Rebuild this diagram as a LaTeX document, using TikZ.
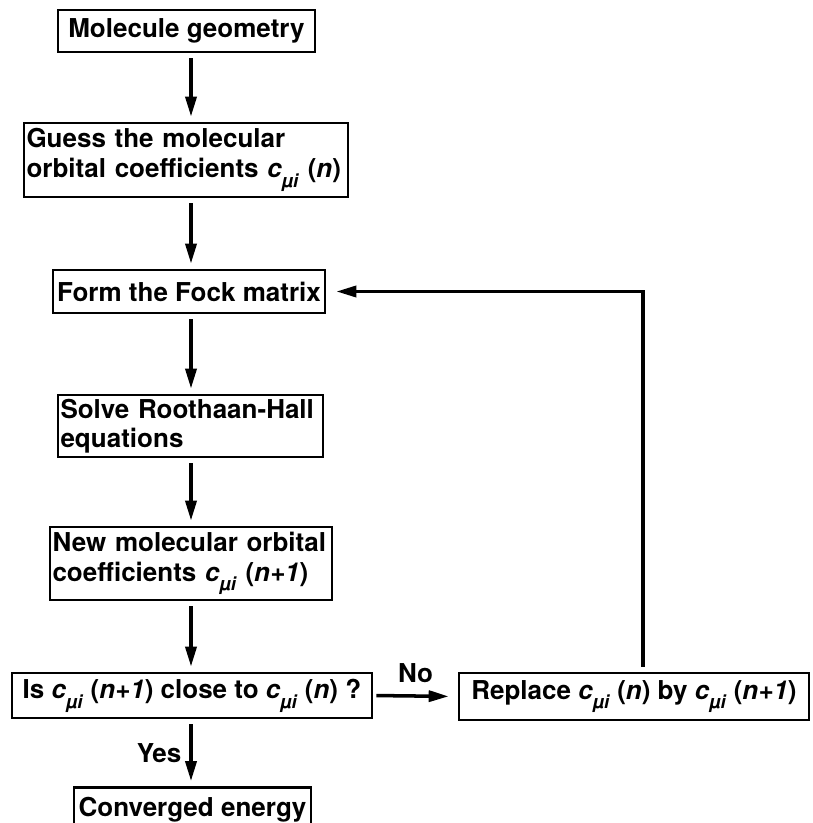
\documentclass[tikz,border=0pt]{standalone}
\usepackage{fontspec}
\setmainfont{TeX Gyre Heros}
\usetikzlibrary{arrows.meta}
\newcommand{\cmui}{\textit{c}\raisebox{-0.7ex}{\fontsize{10.5}{11}\selectfont\textit{µi}}}

\begin{document}
\begin{tikzpicture}[x=1cm,y=1cm,
  box/.style={draw,line width=1.5pt,inner sep=0.05cm,font=\fontsize{14.8}{16.8}\selectfont\bfseries},
  lbl/.style={font=\fontsize{14.8}{16.8}\selectfont\bfseries},
  flow/.style={line width=2pt,-{Triangle[length=0.4cm,width=0.22cm]},shorten <=0.1cm,shorten >=0.1cm}]
\useasboundingbox (0,0) rectangle (16.26,-16.46);
\coordinate (spine) at (3.82,0);
\coordinate (loop) at (12.86,0);

\node[box,minimum width=5.14cm,minimum height=0.84cm] (geom) at (3.73,-0.62) {Molecule geometry};
\node[box,text width=6.38cm,minimum height=1.48cm,align=left] (guess) at (3.72,-3.20) {Guess the molecular\\orbital coefficients \cmui\ (\textit{n})};
\node[box,minimum width=5.44cm,minimum height=0.86cm] (fock) at (3.78,-5.83) {Form the Fock matrix};
\node[box,text width=5.20cm,minimum height=1.24cm,align=left] (solve) at (3.81,-8.52) {Solve Roothaan-Hall\\equations};
\node[box,text width=5.54cm,minimum height=1.46cm,align=left] (newmo) at (3.82,-11.27) {New molecular orbital\\coefficients \cmui\ (\textit{n+1})};
\node[box,minimum width=7.20cm,minimum height=0.90cm] (isclose) at (3.84,-13.91) {Is \cmui\ (\textit{n+1}) close to \cmui\ (\textit{n}) ?};
\node[box,minimum width=7.00cm,minimum height=0.94cm] (replace) at (12.68,-13.93) {Replace \cmui\ (\textit{n}) by \cmui\ (\textit{n+1})};
\node[box,minimum width=4.74cm,minimum height=0.90cm] (conv) at (3.85,-16.20) {Converged energy};

\draw[flow] (geom.south -| spine) -- (guess.north -| spine);
\draw[flow] (guess.south -| spine) -- (fock.north -| spine);
\draw[flow] (fock.south -| spine) -- (solve.north -| spine);
\draw[flow] (solve.south -| spine) -- (newmo.north -| spine);
\draw[flow] (newmo.south -| spine) -- (isclose.north -| spine);
\draw[flow] (isclose.south -| spine) -- node[lbl,left,xshift=-0.04cm] {Yes} (conv.north -| spine);
\draw[flow,shorten <=0.06cm,shorten >=0.18cm] (isclose.east) -- node[lbl,above=0.12cm] {No} (replace.west);
\draw[flow,shorten >=0.2cm] (replace.north -| loop) |- (fock.east);
\end{tikzpicture}
\end{document}
